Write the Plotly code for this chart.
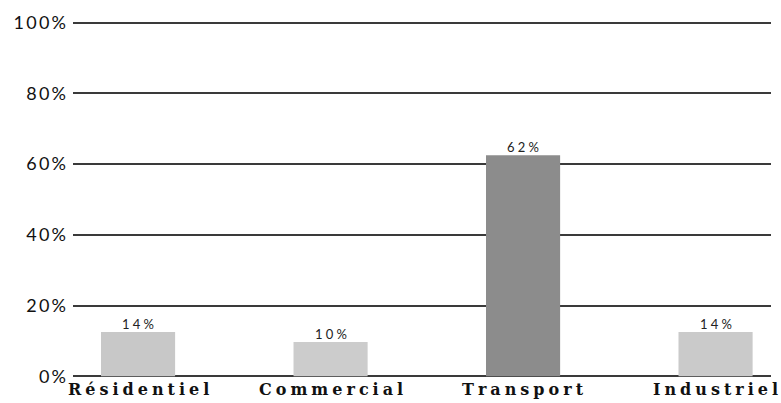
import plotly.graph_objects as go

categories = ["Résidentiel", "Commercial", "Transport", "Industriel"]
bar_values = [12.5, 9.7, 62.5, 12.5]
value_labels = ["14%", "10%", "62%", "14%"]
bar_colors = ["#c8c8c8", "#cccccc", "#8c8c8c", "#cacaca"]
y_ticks = [0, 20, 40, 60, 80, 100]
y_tick_labels = ["0%", "20%", "40%", "60%", "80%", "100%"]

def spaced(s, sep="\u2009"):
    return sep.join(list(s))

fig = go.Figure()
fig.add_trace(go.Bar(
    x=list(range(len(categories))),
    y=bar_values,
    width=0.385,
    marker=dict(color=bar_colors, line=dict(width=0)),
    hoverinfo="skip",
))

for i, (v, t) in enumerate(zip(bar_values, value_labels)):
    fig.add_annotation(
        x=i, y=v, xref="x", yref="y",
        text=spaced(t, "\u2005"),
        showarrow=False, yanchor="bottom", yshift=-2,
        font=dict(family="Lato", size=13, color="#222"),
    )

for i, c in enumerate(categories):
    fig.add_annotation(
        x=i, y=0, xref="x", yref="y",
        text="<b>" + spaced(c, "\u2005") + "</b>",
        showarrow=False, yanchor="top", yshift=-2,
        font=dict(family="DejaVu Serif", size=16, color="#111"),
    )

fig.update_layout(
    width=781, height=403,
    margin=dict(l=73, r=10, t=21, b=25),
    paper_bgcolor="white", plot_bgcolor="white",
    showlegend=False,
    xaxis=dict(range=[-0.338, 3.288], showticklabels=False, showgrid=False,
               zeroline=False, showline=False, fixedrange=True),
    yaxis=dict(range=[-0.5, 100.5], tickvals=y_ticks,
               ticktext=[spaced(t, "\u2009") for t in y_tick_labels],
               showgrid=True, gridcolor="#3a3a3a", gridwidth=2,
               zeroline=False, showline=False, ticks="",
               ticklabelstandoff=6,
               tickfont=dict(family="Lato", size=18, color="#111"),
               fixedrange=True),
)
fig.write_html("out.html")
